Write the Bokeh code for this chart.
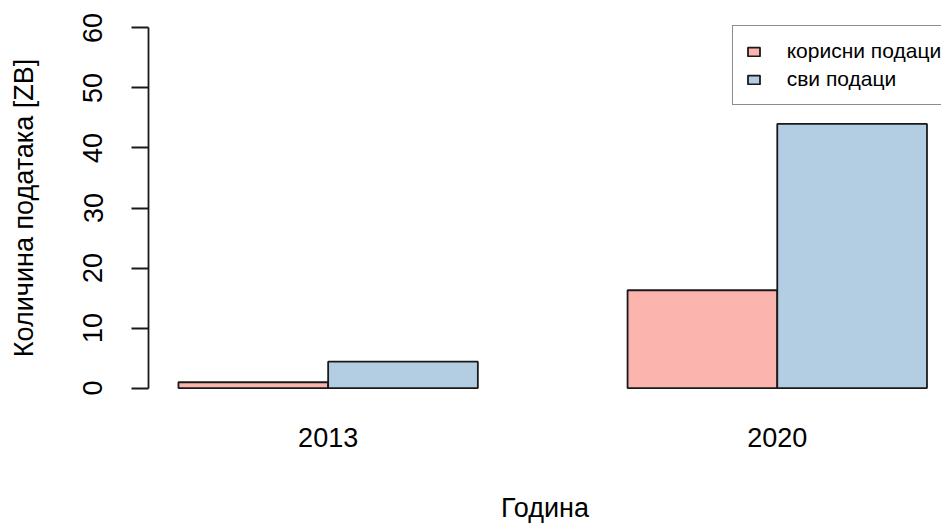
from bokeh.plotting import figure
from bokeh.models import FixedTicker, Legend, LegendItem, ColumnDataSource
from bokeh.embed import file_html
from bokeh.resources import INLINE

years = ["2013", "2020"]
useful = [0.97, 16.3]
all_data = [4.4, 44.0]
series_labels = ["корисни подаци", "сви подаци"]
colors = ["#FBB4AE", "#B3CDE3"]
y_ticks = [0, 10, 20, 30, 40, 50, 60]

# R barplot(beside=TRUE) layout: bar width 1, space 1 between groups
n = len(years)
x_useful = [1.5 + 3 * i for i in range(n)]
x_all = [2.5 + 3 * i for i in range(n)]
x_centers = [2.0 + 3 * i for i in range(n)]

FONT = "Liberation Sans"
INK = "#1a1a1a"

p = figure(width=941, height=525, output_backend="svg", toolbar_location=None,
           x_range=(0.8, 6.097), y_range=(-2.4, 62.4),
           min_border_left=148, min_border_right=0, min_border_top=13,
           min_border_bottom=121)
p.outline_line_color = None
p.xgrid.visible = False
p.ygrid.visible = False
p.background_fill_color = "white"
p.border_fill_color = "white"

src1 = ColumnDataSource(dict(x=x_useful, top=useful))
src2 = ColumnDataSource(dict(x=x_all, top=all_data))
r1 = p.vbar(x="x", top="top", bottom=0, width=1.0, source=src1,
            fill_color=colors[0], line_color=INK, line_width=1.8)
r2 = p.vbar(x="x", top="top", bottom=0, width=1.0, source=src2,
            fill_color=colors[1], line_color=INK, line_width=1.8)

# y axis
ya = p.yaxis[0]
ya.ticker = FixedTicker(ticks=y_ticks)
ya.bounds = (0, 60)
ya.axis_line_width = 1.8
ya.axis_line_color = INK
ya.major_tick_line_width = 1.8
ya.major_tick_line_color = INK
ya.major_tick_out = 17
ya.major_tick_in = 0
ya.minor_tick_line_color = None
ya.major_label_orientation = "vertical"
ya.major_label_standoff = 29
ya.major_label_text_font = FONT
ya.major_label_text_font_size = "27px"
ya.major_label_text_color = "black"
ya.axis_label = "Количина података [ZB]"
ya.axis_label_text_font = FONT
ya.axis_label_text_font_size = "27px"
ya.axis_label_text_font_style = "normal"
ya.axis_label_text_color = "black"
ya.axis_label_standoff = 42

# x axis
xa = p.xaxis[0]
xa.ticker = FixedTicker(ticks=x_centers)
xa.major_label_overrides = {x_centers[i]: years[i] for i in range(n)}
xa.axis_line_color = None
xa.major_tick_line_color = None
xa.minor_tick_line_color = None
xa.major_tick_out = 0
xa.major_tick_in = 0
xa.major_label_standoff = 25
xa.major_label_text_font = FONT
xa.major_label_text_font_size = "27px"
xa.major_label_text_color = "black"
xa.major_label_text_line_height = 1.0
xa.axis_label = "Година"
xa.axis_label_text_font = FONT
xa.axis_label_text_font_size = "27px"
xa.axis_label_text_font_style = "normal"
xa.axis_label_text_color = "black"
xa.axis_label_text_line_height = 1.0
xa.axis_label_standoff = 43

legend = Legend(items=[LegendItem(label=series_labels[0], renderers=[r1]),
                       LegendItem(label=series_labels[1], renderers=[r2])],
                location=(583.7, 297))
legend.border_line_color = INK
legend.border_line_width = 1.8
legend.background_fill_color = "white"
legend.background_fill_alpha = 1.0
legend.label_text_font = FONT
legend.label_text_font_size = "21px"
legend.label_text_color = "black"
legend.glyph_width = 15
legend.glyph_height = 11
legend.label_standoff = 26
legend.label_height = 24
legend.spacing = 4
legend.padding = 13
legend.margin = 0
legend.title = None
p.add_layout(legend, "center")

with open("out.html", "w") as f:
    f.write(file_html(p, INLINE))
